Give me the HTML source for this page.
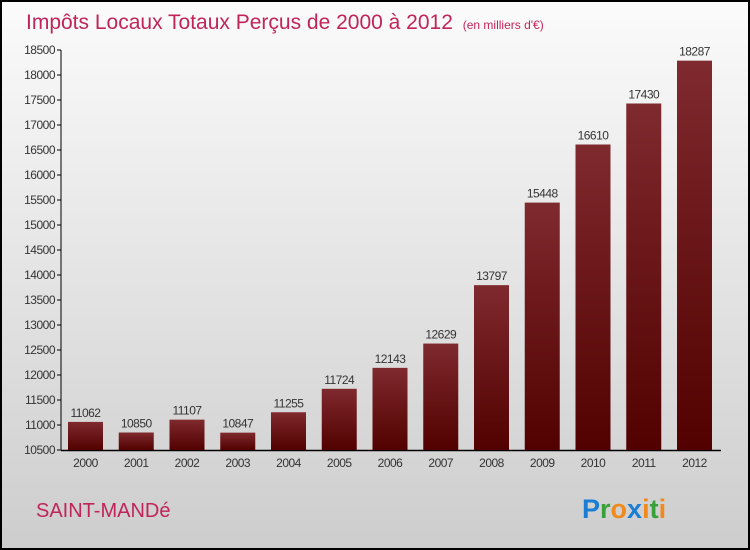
<!DOCTYPE html>
<html><head><meta charset="utf-8"><style>
body{margin:0;}
svg{display:block;font-family:"Liberation Sans",sans-serif;}
</style></head><body>
<svg id="c" width="750" height="550" xmlns="http://www.w3.org/2000/svg">
<defs>
<linearGradient id="bg" x1="0" y1="0" x2="0" y2="1"><stop offset="0" stop-color="#fbfbfb"/><stop offset="1" stop-color="#cdcdcd"/></linearGradient>
<linearGradient id="bar" x1="0" y1="0" x2="0" y2="1"><stop offset="0" stop-color="#7f2a2e"/><stop offset="1" stop-color="#520000"/></linearGradient>
</defs>
<rect x="1" y="1" width="748" height="548" fill="url(#bg)" stroke="#000" stroke-width="2"/>
<text x="26" y="29" font-size="21" fill="#c0245a">Impôts Locaux Totaux Perçus de 2000 à 2012 <tspan font-size="12" dx="4">(en milliers d'€)</tspan></text>
<text x="36" y="517" font-size="20" fill="#c0245a">SAINT-MANDé</text>
<text x="582" y="518" font-size="27" font-weight="bold"><tspan fill="#1a7fd4">P</tspan><tspan fill="#3aa03a">r</tspan><tspan fill="#f08a1c">o</tspan><tspan fill="#1a7fd4">x</tspan><tspan fill="#f08a1c">i</tspan><tspan fill="#3aa03a">t</tspan><tspan fill="#f08a1c">i</tspan></text>
<g id="axes"></g><g id="bars"></g>
</svg>
<script>
const years=["2000","2001","2002","2003","2004","2005","2006","2007","2008","2009","2010","2011","2012"];
const values=[11062,10850,11107,10847,11255,11724,12143,12629,13797,15448,16610,17430,18287];
const ticks=[10500,11000,11500,12000,12500,13000,13500,14000,14500,15000,15500,16000,16500,17000,17500,18000,18500];
const NS="http://www.w3.org/2000/svg";
const y=v=>450-(v-10500)*0.05;
const x=i=>68+i*50.75;
function mk(t,a,p){const e=document.createElementNS(NS,t);for(const k in a)e.setAttribute(k,a[k]);p.appendChild(e);return e;}
const ax=document.getElementById('axes'),bs=document.getElementById('bars');
const ya=mk('line',{x1:61,y1:50,x2:61,y2:450,stroke:'#000'},ax);


const xa=mk('line',{x1:61,y1:450.5,x2:721,y2:450.5,stroke:'#000','stroke-width':1.5},ax);


ticks.forEach(t=>{
 mk('line',{x1:57,x2:61,y1:y(t),y2:y(t),stroke:'#000'},ax);
 const l=mk('text',{x:55,y:y(t)+4,'font-size':12,fill:'#333','text-anchor':'end','letter-spacing':'-0.5'},ax);
 l.textContent=t;
 
 
});
values.forEach((v,i)=>{
 const r=mk('rect',{x:x(i),y:y(v),width:35,height:450-y(v),fill:'url(#bar)'},bs);
 
 
 const l=mk('text',{x:x(i)+17.5,y:y(v)-5,'font-size':12,fill:'#333','text-anchor':'middle','letter-spacing':'-0.5'},bs);
 l.textContent=v;
 
 
 const xl=mk('text',{x:x(i)+17.5,y:467,'font-size':12,fill:'#333','text-anchor':'middle','letter-spacing':'-0.5'},bs);
 xl.textContent=years[i];
 
 
});
</script>
</body></html>
